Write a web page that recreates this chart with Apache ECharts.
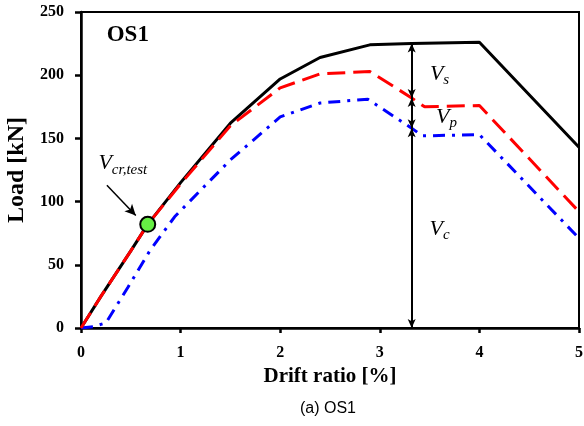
<!DOCTYPE html>
<html>
<head>
<meta charset="utf-8">
<script src="https://cdn.jsdelivr.net/npm/echarts@6/dist/echarts.min.js"></script>
<style>
  html, body { margin: 0; padding: 0; background: #fff; }
  #chart { width: 584px; height: 426px; }
</style>
</head>
<body>
<div id="chart"></div>
<script>
// Load–drift envelopes for specimen OS1
const xTicks = [0, 1, 2, 3, 4, 5];
const yTicks = [0, 50, 100, 150, 200, 250];

// Total capacity (solid black)
const totalDrift = [0, 0.2, 0.5, 0.67, 1.0, 1.5, 2.0, 2.4, 2.9, 3.32, 4.0, 5.0];
const totalLoad  = [0, 25, 61, 82, 115, 162, 197, 214, 224, 225, 226, 143];

// Concrete + prestress contribution (red dashed)
const midDrift = [0, 0.2, 0.5, 0.67, 1.0, 1.5, 2.0, 2.4, 2.9, 3.32, 3.45, 4.0, 5.0];
const midLoad  = [0, 25, 61, 82, 114, 160, 190, 201, 203, 182, 175, 176, 92];

// Concrete contribution (blue dash-dot)
const lowDrift = [0, 0.12, 0.25, 0.47, 0.69, 0.94, 1.5, 2.0, 2.4, 2.88, 3.32, 3.43, 4.0, 5.0];
const lowLoad  = [0, 1, 4, 32, 61, 88, 133, 167, 178, 181, 158, 152, 153, 71];

// First cracking point
const crackPoint = [0.67, 82];

// Shear components marked at a drift of 3.32 %
const splitDrift = 3.32;
const splitLoads = [0, 158, 182, 225];

function pairs(xs, ys) { return xs.map((x, i) => [x, ys[i]]); }

const serif = '"Liberation Serif", "Times New Roman", serif';
const chart = echarts.init(document.getElementById('chart'));

const vRich = {
  v: { fontFamily: serif, fontStyle: 'italic', fontSize: 22, color: '#000' },
  s: { fontFamily: serif, fontStyle: 'italic', fontSize: 15, color: '#000', padding: [12, 0, 0, 0] }
};

chart.setOption({
  animation: false,
  grid: {
    left: 81, right: 5, top: 12, bottom: 98, outerBoundsMode: 'none', containLabel: false,
    show: true, borderColor: '#000', borderWidth: 2, backgroundColor: 'transparent'
  },
  xAxis: {
    type: 'value', min: 0, max: 5, interval: 1,
    name: 'Drift ratio [%]', nameLocation: 'middle', nameGap: 38,
    nameTextStyle: { fontFamily: serif, fontWeight: 'bold', fontSize: 21, color: '#000' },
    axisLine: { lineStyle: { color: '#000', width: 2.5 } },
    axisTick: { show: true, length: 5, lineStyle: { color: '#000', width: 2.5 } },
    axisLabel: { fontFamily: serif, fontWeight: 'bold', fontSize: 16, color: '#000', margin: 17,
      formatter: v => xTicks.includes(v) ? String(v) : '' },
    splitLine: { show: false }
  },
  yAxis: {
    type: 'value', min: 0, max: 250, interval: 50,
    name: 'Load [kN]', nameLocation: 'middle', nameGap: 52, nameRotate: 90,
    nameTextStyle: { fontFamily: serif, fontWeight: 'bold', fontSize: 24, color: '#000' },
    axisLine: { lineStyle: { color: '#000', width: 2.5 } },
    axisTick: { show: true, length: 6, lineStyle: { color: '#000', width: 2.5 } },
    axisLabel: { fontFamily: serif, fontWeight: 'bold', fontSize: 16, color: '#000', margin: 17,
      formatter: v => yTicks.includes(v) ? String(v) : '' },
    splitLine: { show: false }
  },
  graphic: [{
    type: 'text', left: 300, top: 401,
    style: { text: '(a) OS1', font: '16px "Liberation Sans", Arial, sans-serif', fill: '#000' }
  }],
  series: [
    {
      type: 'line', data: pairs(totalDrift, totalLoad), symbol: 'none', z: 2,
      lineStyle: { color: '#000', width: 3 }
    },
    {
      type: 'line', data: pairs(lowDrift, lowLoad), symbol: 'none', z: 3,
      lineStyle: { color: '#0000ff', width: 3, type: [12, 7, 3, 7] }
    },
    {
      type: 'line', data: pairs(midDrift, midLoad), symbol: 'none', z: 4,
      lineStyle: { color: '#ff0000', width: 3, type: [18, 8] }
    },
    {
      // dimension arrows for Vc, Vp, Vs
      type: 'line', data: [], z: 5,
      markLine: {
        silent: true, symbol: ['arrow', 'arrow'], symbolSize: [6, 9],
        lineStyle: { color: '#000', width: 2, type: 'solid' }, label: { show: false },
        data: [0, 1, 2].map(i => [
          { coord: [splitDrift, splitLoads[i]] },
          { coord: [splitDrift, splitLoads[i + 1]] }
        ])
      }
    },
    {
      // pointer from cracking label to the cracking point
      type: 'line', data: [], z: 5,
      markLine: {
        silent: true, symbol: ['none', 'arrow'], symbolSize: [8, 11],
        lineStyle: { color: '#000', width: 1.5, type: 'solid' }, label: { show: false },
        data: [[{ coord: [0.26, 113] }, { coord: [0.55, 89] }]]
      }
    },
    {
      type: 'scatter', data: [crackPoint], z: 6, symbol: 'circle', symbolSize: 15,
      itemStyle: { color: '#66ee44', borderColor: '#000', borderWidth: 2, opacity: 1 }
    },
    {
      // text annotations
      type: 'scatter', z: 7, symbolSize: 0, silent: true,
      itemStyle: { opacity: 1 },
      data: [
        { value: [0.47, 232], label: { formatter: 'OS1', fontFamily: serif, fontWeight: 'bold', fontSize: 23, color: '#000' } },
        { value: [0.42, 130], label: { formatter: '{v|V}{s|cr,test}', rich: vRich } },
        { value: [3.6, 201], label: { formatter: '{v|V}{s|s}', rich: vRich } },
        { value: [3.67, 167], label: { formatter: '{v|V}{s|p}', rich: vRich } },
        { value: [3.6, 78], label: { formatter: '{v|V}{s|c}', rich: vRich } }
      ],
      label: { show: true, position: 'inside', color: '#000', opacity: 1 }
    }
  ]
});
</script>
</body>
</html>
